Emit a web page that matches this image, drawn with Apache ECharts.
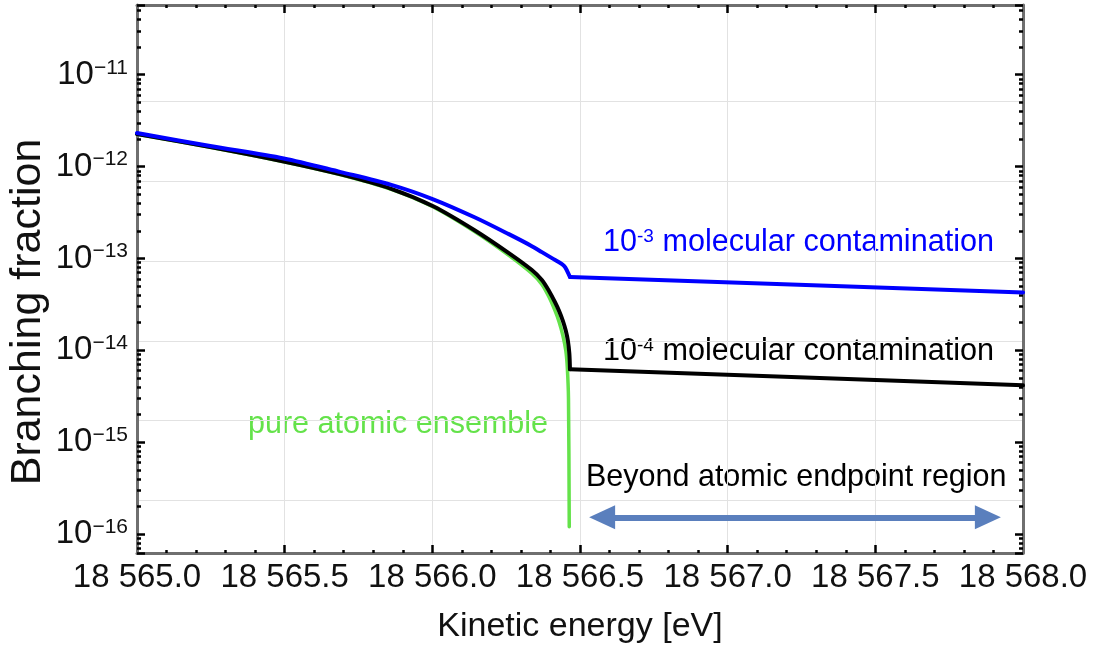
<!DOCTYPE html>
<html><head><meta charset="utf-8">
<script src="https://cdn.jsdelivr.net/npm/echarts@6/dist/echarts.min.js"></script>
<style>html,body{margin:0;padding:0;background:#fff}#c{width:1102px;height:649px}</style>
</head><body><div id="c"></div>
<script>
// ---- data ----
const X_MIN = 18565.0, X_MAX = 18568.0, X_STEP = 0.5;
const Y_MIN_EXP = -16.206, Y_MAX_EXP = -10.241;
// horizontal grid lines of the reference (they are not at decades), as exponents of 10
const GRID_EXP = [-15.632, -14.764, -13.896, -13.029, -12.161, -11.293];

const energyPure = [18565.000, 18565.248, 18565.497, 18565.690, 18565.861, 18566.003, 18566.143, 18566.259, 18566.337, 18566.371, 18566.395, 18566.415, 18566.429, 18566.442, 18566.452, 18566.457, 18566.461, 18566.4636];
const valuePure  = [2.255e-12, 1.627e-12, 1.131e-12, 8.16e-13, 5.66e-13, 3.63e-13, 1.96e-13, 1.08e-13, 6.85e-14, 5.2e-14, 3.8e-14, 2.72e-14, 2.05e-14, 1.45e-14, 9.9e-15, 6.5e-15, 3.0e-15, 1.2e-16];

// 10^-4 contamination: rising branch up to the endpoint, then the flat tail
const energyMol4 = [18565.000, 18565.248, 18565.497, 18565.690, 18565.861, 18566.003, 18566.143, 18566.259, 18566.337, 18566.371, 18566.395, 18566.415, 18566.429, 18566.442, 18566.452, 18566.459, 18566.464, 18566.466];
const valueMol4  = [2.262e-12, 1.634e-12, 1.138e-12, 8.23e-13, 5.73e-13, 3.70e-13, 2.03e-13, 1.144e-13, 7.48e-14, 5.83e-14, 4.43e-14, 3.36e-14, 2.69e-14, 2.09e-14, 1.63e-14, 1.27e-14, 9.18e-15, 6.24e-15];
const energyMol4Tail = [18566.466, 18567.240, 18568.000];
const valueMol4Tail  = [6.24e-15, 5.09e-15, 4.16e-15];

// 10^-3 contamination
const energyMol3 = [18565.000, 18565.248, 18565.497, 18565.690, 18565.861, 18566.003, 18566.143, 18566.259, 18566.337, 18566.371, 18566.405, 18566.439, 18566.450, 18566.463, 18566.466];
const valueMol3  = [2.318e-12, 1.676e-12, 1.227e-12, 8.71e-13, 6.33e-13, 4.41e-13, 2.81e-13, 1.84e-13, 1.362e-13, 1.172e-13, 1.009e-13, 8.69e-14, 8.0e-14, 6.60e-14, 6.28e-14];
const energyMol3Tail = [18566.466, 18567.240, 18568.000];
const valueMol3Tail  = [6.28e-14, 5.18e-14, 4.27e-14];

const arrowEnergy = [18566.575, 18567.881];
const arrowLevel = 1.52e-16;

const labelMol3 = ['10', '-3', ' molecular contamination'];
const labelMol4 = ['10', '-4', ' molecular contamination'];
const labelPure = 'pure atomic ensemble';
const labelRegion = 'Beyond atomic endpoint region';
const xName = 'Kinetic energy [eV]';
const yName = 'Branching fraction';

// ---- helpers ----
const FONT = "'Liberation Sans', Arial, Helvetica, sans-serif";
const yMin = Math.pow(10, Y_MIN_EXP), yMax = Math.pow(10, Y_MAX_EXP);
const minorTicks = [];
for (let d = -17; d <= -11; d++) for (let m = 2; m <= 9; m++) {
  const v = m * Math.pow(10, d);
  if (v > yMin && v < yMax) minorTicks.push(v);
}
const gridValues = GRID_EXP.map(e => Math.pow(10, e));
const pairs = (xs, ys) => xs.map((x, i) => [x, ys[i]]);
const COL_GREEN = '#64e24a', COL_BLUE = '#0000ff', COL_BLACK = '#000000';
const FRAME = { show: true, onZero: false, lineStyle: { color: '#6f6f6f', width: 3 } };
const MAJ = { show: true, inside: true, length: 8, lineStyle: { color: '#000', width: 2.5 } };
const SMOOTH = 0.3;

const chart = echarts.init(document.getElementById('c'), null, { renderer: 'canvas' });
const logAxis = (extra) => Object.assign({
  type: 'log', logBase: 10, min: yMin, max: yMax,
  splitLine: { show: false }, axisLine: { show: false },
  axisTick: { show: false }, axisLabel: { show: false }
}, extra);
const lineSeries = (name, xs, ys, color, width, z, smooth) => ({
  name, type: 'line', yAxisIndex: 0, showSymbol: false, symbol: 'none', smooth,
  data: pairs(xs, ys), lineStyle: { color, width, cap: 'round', join: 'round' }, z
});

const pure = lineSeries('pure atomic ensemble', energyPure, valuePure, COL_GREEN, 3.5, 3, SMOOTH);
pure.markLine = { silent: true, symbol: ['triangle', 'triangle'], symbolSize: [24, 26],
  label: { show: false }, lineStyle: { color: '#5a7fbd', width: 6, type: 'solid' },
  data: [[{ coord: [arrowEnergy[0], arrowLevel] }, { coord: [arrowEnergy[1], arrowLevel] }]] };

chart.setOption({
  animation: false,
  backgroundColor: '#fff',
  grid: { left: 137, right: 79, top: 5, bottom: 94, containLabel: false },
  xAxis: [
    { type: 'value', min: X_MIN, max: X_MAX, interval: X_STEP, position: 'bottom',
      axisLine: FRAME, axisTick: MAJ,
      minorTick: { show: true, splitNumber: 5, length: 3, lineStyle: { color: '#000', width: 2.5 } },
      splitLine: { show: true, lineStyle: { color: '#e2e2e2', width: 1 } },
      axisLabel: { show: true, margin: 8, color: '#111', fontSize: 33, fontFamily: FONT,
        formatter: v => { const s = v.toFixed(1); return s.slice(0, 2) + ' ' + s.slice(2); } },
      name: xName, nameLocation: 'middle', nameGap: 57,
      nameTextStyle: { color: '#111', fontSize: 34, fontFamily: FONT } },
    { type: 'value', min: X_MIN, max: X_MAX, interval: X_STEP, position: 'top',
      axisLine: FRAME, axisTick: MAJ,
      minorTick: { show: true, splitNumber: 5, length: 3, lineStyle: { color: '#000', width: 2.5 } },
      splitLine: { show: false }, axisLabel: { show: false } }
  ],
  yAxis: [
    logAxis({ position: 'left', axisLine: FRAME, axisTick: MAJ, z: 3,
      axisLabel: { show: true, margin: 9, color: '#111', fontFamily: FONT,
        formatter: v => {
          const l = Math.log10(v), e = Math.round(l);
          if (Math.abs(l - e) > 1e-6) return '';
          return '{b|10}{s|\u2212' + (-e) + '}';
        },
        rich: { b: { fontSize: 33, fontFamily: FONT, color: '#111' },
                s: { fontSize: 21, fontFamily: FONT, color: '#111', verticalAlign: 'top', padding: [0, 0, 14, 0] } } } }),
    logAxis({ position: 'right', axisLine: FRAME, axisTick: MAJ, z: 3 }),
    logAxis({ position: 'left', z: 3, axisTick: { show: true, inside: true, length: 4, customValues: minorTicks, lineStyle: { color: '#000', width: 2.5 } } }),
    logAxis({ position: 'right', z: 3, axisTick: { show: true, inside: true, length: 4, customValues: minorTicks, lineStyle: { color: '#000', width: 2.5 } } }),
    logAxis({ position: 'left', z: 0, axisTick: { show: false, customValues: gridValues },
      splitLine: { show: true, lineStyle: { color: '#e2e2e2', width: 1 } } })
  ],
  series: [
    pure,
    lineSeries('10^-4 molecular contamination', energyMol4, valueMol4, COL_BLACK, 4, 4, SMOOTH),
    lineSeries('10^-4 tail', energyMol4Tail, valueMol4Tail, COL_BLACK, 4, 4, false),
    lineSeries('10^-3 molecular contamination', energyMol3, valueMol3, COL_BLUE, 4, 5, SMOOTH),
    lineSeries('10^-3 tail', energyMol3Tail, valueMol3Tail, COL_BLUE, 4, 5, false)
  ],
  graphic: [
    { type: 'text', x: 603, y: 243, style: { text: '{n|' + labelMol3[0] + '}{s|' + labelMol3[1] + '}{n|' + labelMol3[2] + '}',
        fill: COL_BLUE, verticalAlign: 'middle', align: 'left',
        rich: { n: { fontSize: 30.6, fontFamily: FONT, fill: COL_BLUE, color: COL_BLUE },
                s: { fontSize: 19, fontFamily: FONT, fill: COL_BLUE, color: COL_BLUE, verticalAlign: 'top', padding: [0, 0, 12, 0] } } } },
    { type: 'text', x: 603, y: 352, style: { text: '{n|' + labelMol4[0] + '}{s|' + labelMol4[1] + '}{n|' + labelMol4[2] + '}',
        fill: COL_BLACK, verticalAlign: 'middle', align: 'left',
        rich: { n: { fontSize: 30.6, fontFamily: FONT, fill: COL_BLACK, color: COL_BLACK },
                s: { fontSize: 19, fontFamily: FONT, fill: COL_BLACK, color: COL_BLACK, verticalAlign: 'top', padding: [0, 0, 12, 0] } } } },
    { type: 'text', x: 248, y: 425, style: { text: labelPure, fill: COL_GREEN, font: '30.5px ' + FONT, verticalAlign: 'middle', align: 'left' } },
    { type: 'text', x: 586, y: 478, style: { text: labelRegion, fill: '#000', font: '30.5px ' + FONT, verticalAlign: 'middle', align: 'left' } },
    { type: 'text', x: 28, y: 312, rotation: Math.PI / 2, style: { text: yName, fill: '#111', font: '43px ' + FONT, verticalAlign: 'middle', align: 'center' } }
  ]
});
</script></body></html>
